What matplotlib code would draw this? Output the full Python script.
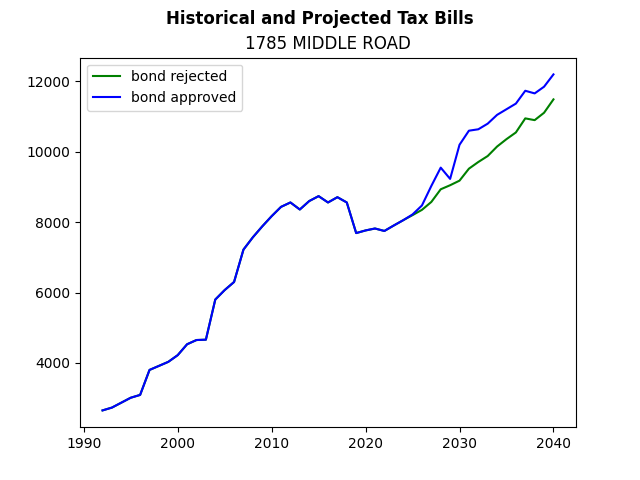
import matplotlib
matplotlib.use("Agg")
import matplotlib.pyplot as plt

years = list(range(1992, 2041))

# shared history up to 2024, then the two projections split
history = [2650, 2730, 2870, 3010, 3090, 3800, 3915, 4030, 4220, 4530,
           4650, 4660, 5800, 6070, 6300, 7220, 7570, 7880, 8170, 8435,
           8560, 8360, 8600, 8740, 8560, 8710, 8560, 7690, 7765, 7820,
           7750, 7905, 8055]

rejected_proj = [8200, 8350, 8575, 8935, 9050, 9180, 9520, 9710, 9880,
                 10150, 10360, 10550, 10950, 10900, 11110, 11490]
approved_proj = [8220, 8475, 9030, 9550, 9230, 10200, 10600, 10640, 10800,
                 11050, 11210, 11370, 11735, 11660, 11850, 12200]

rejected = history + rejected_proj
approved = history + approved_proj

fig, ax = plt.subplots(figsize=(6.4, 4.8))
ax.plot(years, rejected, color="green", label="bond rejected")
ax.plot(years, approved, color="blue", label="bond approved")
ax.legend(loc="upper left")
ax.set_title("1785 MIDDLE ROAD")
fig.suptitle("Historical and Projected Tax Bills", fontweight="bold")
fig.savefig("out.png", dpi=100)
